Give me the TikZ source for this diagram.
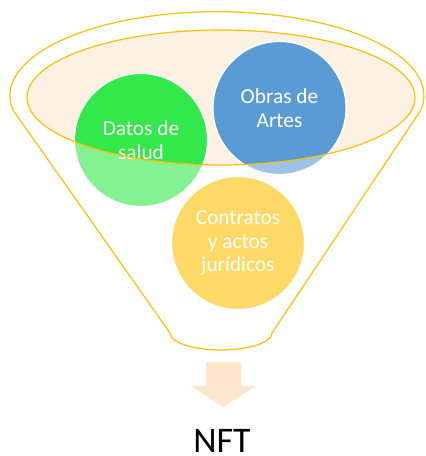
\documentclass[tikz,border=0pt]{standalone}
\usepackage{fontspec}
\setmainfont{Carlito}
\usepackage{xcolor}
\usetikzlibrary{positioning}
\definecolor{funnelline}{HTML}{FFC000}
\definecolor{bowlfill}{HTML}{FDF1E3}
\definecolor{arrowfill}{HTML}{FDE6CC}
\definecolor{saludgreen}{HTML}{32E84A}
\definecolor{obrasblue}{HTML}{5B9BD5}
\definecolor{contratoyellow}{HTML}{FFD966}

\begin{document}
\begin{tikzpicture}[
            x=0.75pt, y=0.75pt,
            funnel/.style={draw=funnelline, line width=0.9pt},
            bubble/.style={circle, draw=white, line width=1.1pt, minimum size=100pt,
                inner sep=0pt, text=white, align=center,
                font=\fontsize{16}{17.6}\selectfont},
            inbowl/.style={path picture={\fill[#1] (bowl) ellipse[x radius=145.5pt, y radius=50.6pt];}},
        ]
            \useasboundingbox (0,0) rectangle (425,456);
            \draw[funnel] (13,346) arc[start angle=189.8, end angle=-9.8, x radius=207, y radius=84]
                -- (272,123) arc[start angle=0, end angle=-180, x radius=51, y radius=17] -- cycle;
            \coordinate (bowl) at (221,358.5);
            \fill[bowlfill] (bowl) ellipse[x radius=194, y radius=67.5];
            \node[bubble, fill=saludgreen!60!white, inbowl=saludgreen] (salud) at (141,316) {Datos de\\salud};
            \node[bubble, fill=obrasblue!60!white, inbowl=obrasblue] (obras) at (279.5,348) {Obras de\\Artes};
            \node[bubble, fill=contratoyellow] (contratos) at (238,213) {Contratos\\y actos\\jurídicos};
            \draw[funnel] (bowl) ellipse[x radius=194, y radius=67.5];
            \fill[arrowfill] (206,94) -- (241,94) -- (241,70) -- (256,70) -- (223.5,49)
                -- (191,70) -- (206,70) -- cycle;
            \node[font=\fontsize{27}{30}\selectfont, anchor=base, inner sep=1pt] (nft) at (222,3) {NFT};
        \end{tikzpicture}
\end{document}
